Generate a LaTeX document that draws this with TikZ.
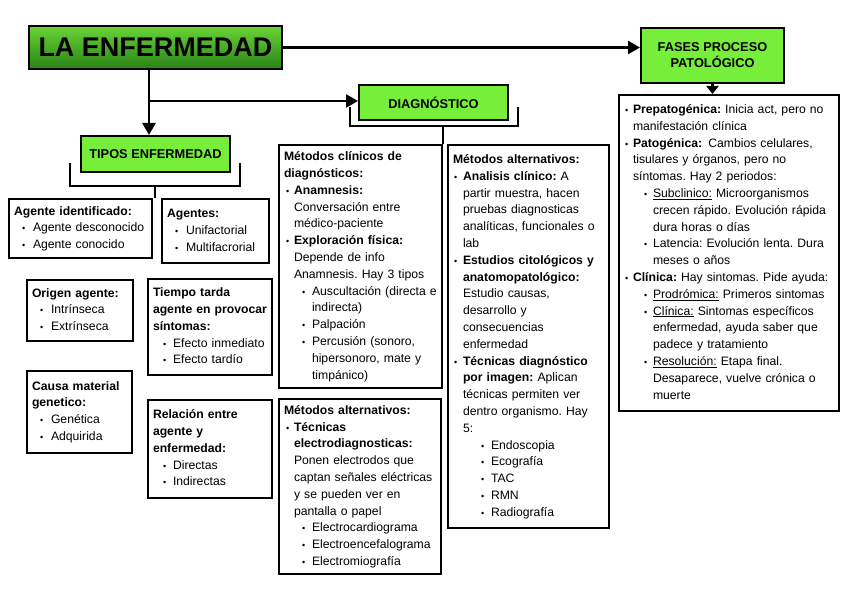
\documentclass[tikz,border=0pt]{standalone}
\usepackage{fontspec}
\setmainfont{Liberation Sans}
\usetikzlibrary{arrows.meta,calc}
\frenchspacing

\definecolor{lime}{RGB}{118,238,58}
\definecolor{enftop}{RGB}{105,212,55}
\definecolor{enfbot}{RGB}{42,130,22}

\newcommand{\rows}[1]{\begin{tabular}{@{}l@{}}#1\end{tabular}}
\newcommand{\bu}[2]{\hspace*{#1}\makebox[#2][l]{\small\textbullet}}
\newcommand{\ind}[1]{\hspace*{#1}}

\begin{document}
\begin{tikzpicture}[x=1pt,y=-1pt,
  card/.style={draw,line width=2pt,anchor=north west,align=left,inner xsep=5pt,inner ysep=3pt,font=\fontsize{12.2}{16.8}\selectfont},
  title/.style={draw,line width=2pt,anchor=north west,fill=lime,align=center,inner sep=2pt,font=\fontsize{12.8}{16}\selectfont\bfseries},
  arr/.style={line width=2.5pt,-{Triangle[length=12pt,width=13pt]}},
  brace/.style={line width=2pt}]
\path[use as bounding box,fill=white] (0,0) rectangle (848,599);

% titles
\node[title,minimum width=253pt,minimum height=43pt,top color=enftop,bottom color=enfbot,font=\fontsize{27}{30}\selectfont\bfseries] (enf) at (28,25) {LA ENFERMEDAD};
\node[title,minimum width=143pt,minimum height=55pt] (fases) at (640,27) {FASES PROCESO\\PATOLÓGICO};
\node[title,minimum width=149pt,minimum height=35pt] (diag) at (358,84) {DIAGNÓSTICO};
\node[title,minimum width=149pt,minimum height=36pt] (tipos) at (80,135) {TIPOS ENFERMEDAD};

% tipos enfermedad
\node[card,text width=133pt,minimum height=59pt] (agid) at (8,198) {\rows{%
\textbf{Agente identificado:}\\
\bu{8pt}{11pt}Agente desconocido\\
\bu{8pt}{11pt}Agente conocido}};
\node[card,text width=97pt,minimum height=64pt] (agentes) at (161,198) {\rows{%
\textbf{Agentes:}\\
\bu{8pt}{11pt}Unifactorial\\
\bu{8pt}{11pt}Multifacrorial}};
\node[card,text width=96pt,minimum height=61pt] (origen) at (26,279) {\rows{%
\textbf{Origen agente:}\\
\bu{8pt}{11pt}Intrínseca\\
\bu{8pt}{11pt}Extrínseca}};
\node[card,text width=114pt,minimum height=96pt] (tiempo) at (147,278) {\rows{%
\textbf{Tiempo tarda}\\
\textbf{agente en provocar}\\
\textbf{síntomas:}\\
\bu{10pt}{10pt}Efecto inmediato\\
\bu{10pt}{10pt}Efecto tardío}};
\node[card,text width=95pt,minimum height=82pt] (causa) at (26,370) {\rows{%
\textbf{Causa material}\\
\textbf{genetico:}\\
\bu{8pt}{11pt}Genética\\
\bu{8pt}{11pt}Adquirida}};
\node[card,text width=114pt,minimum height=98pt] (relacion) at (147,399) {\rows{%
\textbf{Relación entre}\\
\textbf{agente y}\\
\textbf{enfermedad:}\\
\bu{10pt}{10pt}Directas\\
\bu{10pt}{10pt}Indirectas}};

% diagnostico
\node[card,text width=153pt,minimum height=243pt] (clin) at (278,144) {\rows{%
\textbf{Métodos clínicos de}\\
\textbf{diagnósticos:}\\
\bu{2pt}{8pt}\textbf{Anamnesis:}\\
\ind{10pt}Conversación entre\\
\ind{10pt}médico-paciente\\
\bu{2pt}{8pt}\textbf{Exploración física:}\\
\ind{10pt}Depende de info\\
\ind{10pt}Anamnesis. Hay 3 tipos\\
\bu{18pt}{10pt}Auscultación (directa e\\
\ind{28pt}indirecta)\\
\bu{18pt}{10pt}Palpación\\
\bu{18pt}{10pt}Percusión (sonoro,\\
\ind{28pt}hipersonoro, mate y\\
\ind{28pt}timpánico)}};
\node[card,text width=152pt,minimum height=175pt] (alta) at (278,398) {\rows{%
\textbf{Métodos alternativos:}\\
\bu{2pt}{8pt}\textbf{Técnicas}\\
\ind{10pt}\textbf{electrodiagnosticas:}\\
\ind{10pt}Ponen electrodos que\\
\ind{10pt}captan señales eléctricas\\
\ind{10pt}y se pueden ver en\\
\ind{10pt}pantalla o papel\\
\bu{18pt}{10pt}Electrocardiograma\\
\bu{18pt}{10pt}Electroencefalograma\\
\bu{18pt}{10pt}Electromiografía}};
\node[card,text width=151pt,minimum height=383pt] (altb) at (447,144) {\rows{%
\textbf{Métodos alternativos:}\\
\bu{1pt}{9pt}\textbf{Analisis clínico:} A\\
\ind{10pt}partir muestra, hacen\\
\ind{10pt}pruebas diagnosticas\\
\ind{10pt}analíticas, funcionales o\\
\ind{10pt}lab\\
\bu{1pt}{9pt}\textbf{Estudios citológicos y}\\
\ind{10pt}\textbf{anatomopatológico:}\\
\ind{10pt}Estudio causas,\\
\ind{10pt}desarrollo y\\
\ind{10pt}consecuencias\\
\ind{10pt}enfermedad\\
\bu{1pt}{9pt}\textbf{Técnicas diagnóstico}\\
\ind{10pt}\textbf{por imagen:} Aplican\\
\ind{10pt}técnicas permiten ver\\
\ind{10pt}dentro organismo. Hay\\
\ind{10pt}5:\\
\bu{28pt}{10pt}Endoscopia\\
\bu{28pt}{10pt}Ecografía\\
\bu{28pt}{10pt}TAC\\
\bu{28pt}{10pt}RMN\\
\bu{28pt}{10pt}Radiografía}};

% fases proceso patologico
\node[card,text width=210pt,minimum height=316pt] (etapas) at (618,94) {\rows{%
\bu{1pt}{8pt}\textbf{Prepatogénica:} Inicia act, pero no\\
\ind{9pt}manifestación clínica\\
\bu{1pt}{8pt}\textbf{Patogénica:}\, Cambios celulares,\\
\ind{9pt}tisulares y órganos, pero no\\
\ind{9pt}síntomas. Hay 2 periodos:\\
\bu{20pt}{9pt}\underline{Subclinico:} Microorganismos\\
\ind{29pt}crecen rápido. Evolución rápida\\
\ind{29pt}dura horas o días\\
\bu{20pt}{9pt}Latencia: Evolución lenta. Dura\\
\ind{29pt}meses o años\\
\bu{1pt}{8pt}\textbf{Clínica:} Hay sintomas. Pide ayuda:\\
\bu{20pt}{9pt}\underline{Prodrómica:} Primeros sintomas\\
\bu{20pt}{9pt}\underline{Clínica:} Sintomas específicos\\
\ind{29pt}enfermedad, ayuda saber que\\
\ind{29pt}padece y tratamiento\\
\bu{20pt}{9pt}\underline{Resolución:} Etapa final.\\
\ind{29pt}Desaparece, vuelve crónica o\\
\ind{29pt}muerte}};

% connectors
\coordinate (split) at (149,101);
\draw[arr] (enf.east) -- (enf.east -| fases.west);
\draw[line width=2.5pt] (enf.south -| split) -- (split);
\draw[arr] (split) -- (tipos.north -| split);
\draw[arr] (split) -- (split -| diag.west);
\draw[line width=2.5pt,-{Triangle[length=8pt,width=12pt]}] (fases.south) -- (fases.south |- etapas.north);

% brackets
\coordinate (tb) at (155,186);
\draw[brace] (70,163) |- (tb) -| (240,163);
\draw[brace] (tb) -- (tb |- agid.north);
\coordinate (db) at (443,126);
\draw[brace] (350,107) |- (db) -| (518,107);
\draw[brace] (db) -- (db |- clin.north);
\end{tikzpicture}
\end{document}
